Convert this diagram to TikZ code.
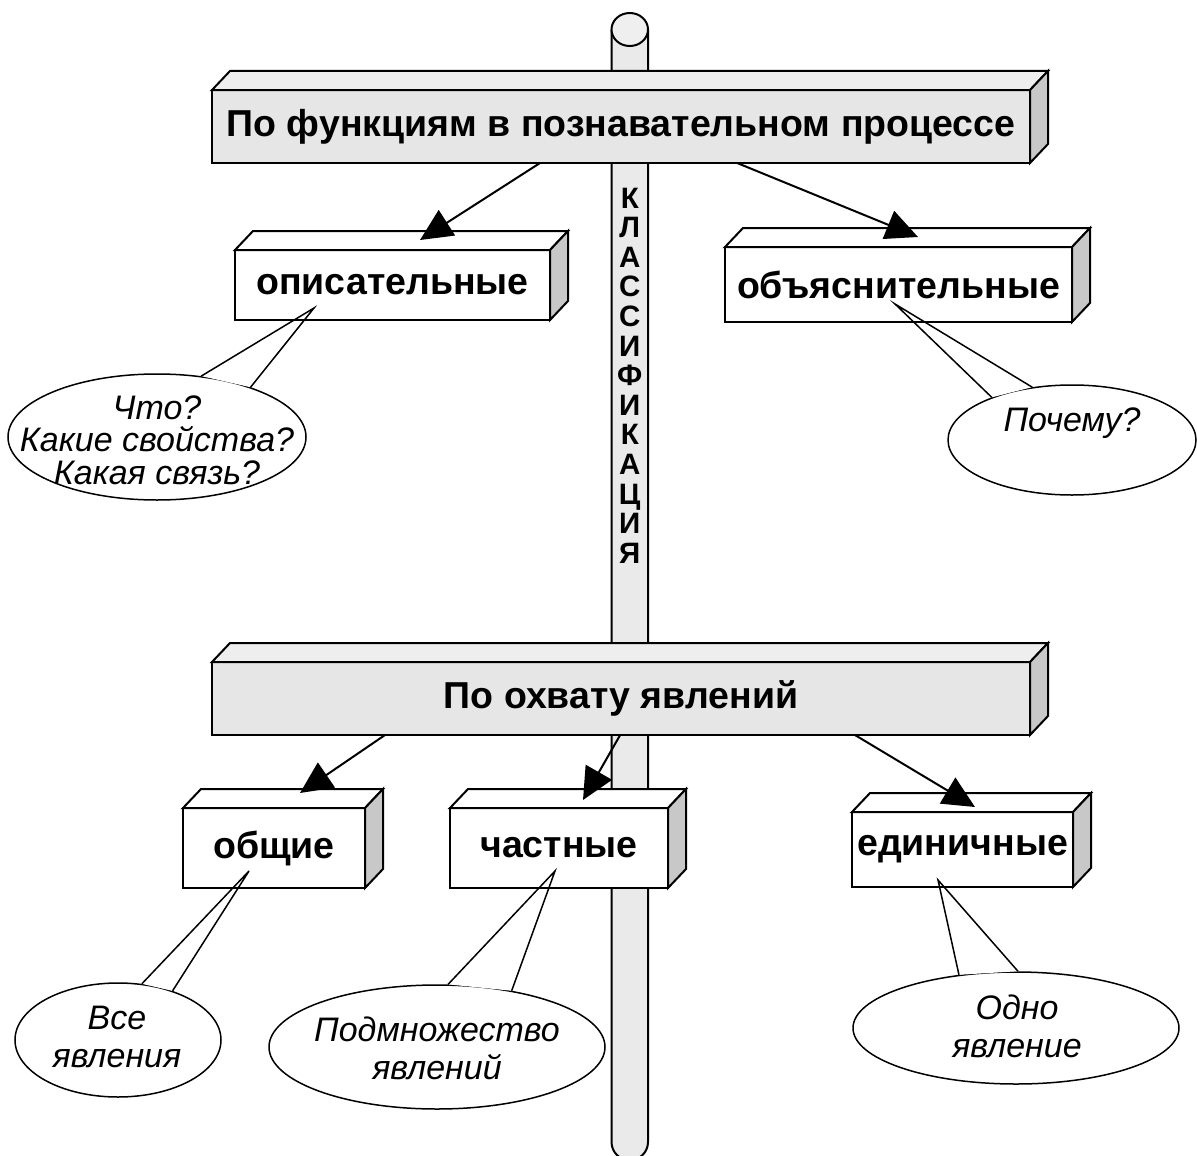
\documentclass[tikz,border=0pt]{standalone}
\usepackage{fontspec}
\setmainfont{Liberation Sans}
\usetikzlibrary{arrows.meta,shapes.geometric,calc}

\definecolor{polefill}{HTML}{EAEAEA}
\definecolor{capfill}{HTML}{EFEFEF}
\definecolor{panelfront}{HTML}{E6E6E6}
\definecolor{paneltop}{HTML}{EEEEEE}
\definecolor{sideface}{HTML}{C8C8C8}

\tikzset{
  edge/.style={draw=black, line width=2pt, line join=miter},
  facebox/.style={edge, rectangle, inner sep=0pt, outer sep=0pt, align=center,
    font=\fontsize{37.5}{40}\selectfont\bfseries},
  arrowline/.style={line width=2pt, -{Triangle[length=32pt,width=30pt]}},
  bubble/.style={ellipse, draw=black, fill=white, line width=1.5pt, inner sep=0pt},
  tailline/.style={line width=1.5pt, line join=miter},
  bubbletext/.style={align=center, inner sep=0pt, font=\fontsize{34}{38}\selectfont\itshape},
  poletext/.style={align=center, inner sep=0pt, font=\fontsize{29.5}{29.6}\selectfont\bfseries},
}

% front face as a node, then the slanted top face and the shaded right face
\newcommand\solidbox[8]{%
  \node[facebox, fill=#6, minimum width=#4pt, minimum height=#5pt] (#1) at (#2,#3) {#8};
  \draw[edge, fill=#7] (#1.north west) -- ++(18,-19) -- ([shift={(18,-19)}]#1.north east) -- (#1.north east) -- cycle;
  \draw[edge, fill=sideface] (#1.north east) -- ++(18,-19) -- ([shift={(18,-19)}]#1.south east) -- (#1.south east) -- cycle;
}

% speech bubble: ellipse node, its tail towards a tip coordinate; the arc under the tail is hidden
\newcommand\callout[8]{%
  \node[bubble, minimum width={2*#4pt}, minimum height={2*#5pt}] (#1) at (#2,#3) {};
  \begin{scope}
    \clip (#1.center) ellipse[x radius={#4pt+5pt}, y radius={#5pt+5pt}];
    \fill[white] (#1.#7) -- (#6) -- (#1.#8) -- cycle;
  \end{scope}
  \draw[tailline] (#1.#7) -- (#6) -- (#1.#8);
}

\begin{document}
\begin{tikzpicture}[x=1pt, y=-1pt]
  \fill[white] (0,0) rectangle (1197,1156);
  \path[use as bounding box, clip] (0,0) rectangle (1197,1156);

  % the post
  \filldraw[edge, fill=polefill] (611.5,29.5) -- (611.5,1142)
    arc[start angle=180, end angle=360, radius=18.25pt] -- (648,29.5);
  \filldraw[edge, fill=capfill] (629.75,29.5) ellipse[x radius=18.25pt, y radius=16.5pt];
  \node[poletext] (klass) at (629.75,375.5) {К\\Л\\А\\С\\С\\И\\Ф\\И\\К\\А\\Ц\\И\\Я};

  % blocks
  \solidbox{topbox}{621}{126.5}{818}{73}{panelfront}{paneltop}{По функциям в познавательном процессе}
  \solidbox{desc}{392.5}{285}{315}{70}{white}{white}{описательные}
  \solidbox{expl}{898.5}{284.5}{347}{75}{white}{white}{объяснительные}
  \solidbox{spanbox}{621}{698.5}{818}{73}{panelfront}{paneltop}{По охвату явлений}
  \solidbox{gen}{274}{848}{182}{80}{white}{white}{общие}
  \solidbox{part}{559}{848}{218}{80}{white}{white}{частные}
  \solidbox{single}{962.5}{849.5}{221}{75}{white}{white}{единичные}

  % arrows
  \draw[arrowline] ($(topbox.south west)!0.401!(topbox.south east)$) -- ([shift={(185,-10)}]desc.north west);
  \draw[arrowline] ($(topbox.south west)!0.642!(topbox.south east)$) -- ([shift={(193,-10)}]expl.north west);
  \draw[arrowline] ($(spanbox.south west)!0.2115!(spanbox.south east)$) -- ([shift={(117,-15)}]gen.north west);
  \draw[arrowline] ($(spanbox.south west)!0.499!(spanbox.south east)$) -- ([shift={(133,-8)}]part.north west);
  \draw[arrowline] ($(spanbox.south west)!0.786!(spanbox.south east)$) -- ([shift={(123,-5)}]single.north west);

  % tail tips inside the blocks
  \coordinate (descTip) at ([shift={(79,-12)}]desc.south west);
  \coordinate (explTip) at ([shift={(170,-18)}]expl.south west);
  \coordinate (genTip) at ([shift={(66,-17)}]gen.south west);
  \coordinate (partTip) at ([shift={(105,-17)}]part.south west);
  \coordinate (singleTip) at ([shift={(86,-7)}]single.south west);

  % bubbles
  \callout{qDesc}{157}{437}{149}{63}{descTip}{54}{28}
  \node[bubbletext, font=\fontsize{34}{32.5}\selectfont\itshape] (qDescText) at (157,440) {Что?\\Какие свойства?\\Какая связь?};

  \callout{qExpl}{1072}{440}{124}{55}{explTip}{152}{127}
  \node[bubbletext] (qExplText) at (1072,423) {Почему?};

  \callout{qGen}{118}{1040}{103}{57}{genTip}{67}{42}
  \node[bubbletext] (qGenText) at (117,1037) {Все\\явления};

  \callout{qPart}{437}{1047}{168}{62}{partTip}{80}{37}
  \node[bubbletext] (qPartText) at (437,1048) {Подмножество\\явлений};

  \callout{qSingle}{1016}{1028}{163}{56}{singleTip}{137}{88}
  \node[bubbletext] (qSingleText) at (1017,1026) {Одно\\явление};
\end{tikzpicture}
\end{document}
